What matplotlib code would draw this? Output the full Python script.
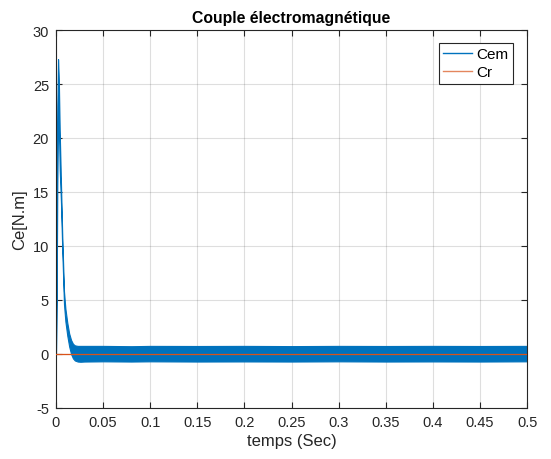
import matplotlib
matplotlib.use("Agg")
import matplotlib.pyplot as plt
from matplotlib.lines import Line2D

# Electromagnetic torque envelope (min/max of the ripple) over time
t_env = [0.0, 0.0008, 0.0015, 0.0022, 0.003, 0.004, 0.0053, 0.0067, 0.0085,
         0.010, 0.012, 0.014, 0.016, 0.018, 0.020, 0.023, 0.026, 0.030,
         0.05, 0.08, 0.10, 0.15, 0.20, 0.25, 0.30, 0.35, 0.40, 0.45, 0.50]
cem_upper = [0.0, 12.0, 23.0, 27.3, 25.5, 20.5, 15.8, 10.8, 5.8,
             4.2, 2.9, 1.9, 1.3, 0.95, 0.8, 0.75, 0.75, 0.75,
             0.75, 0.72, 0.75, 0.74, 0.75, 0.73, 0.75, 0.74, 0.75, 0.74, 0.75]
cem_lower = [0.0, 6.0, 17.0, 24.0, 21.5, 17.0, 14.0, 9.5, 4.6,
             3.0, 1.7, 0.7, 0.0, -0.4, -0.6, -0.7, -0.72, -0.7,
             -0.68, -0.7, -0.68, -0.7, -0.69, -0.7, -0.68, -0.7, -0.69, -0.7, -0.68]
# Load torque
t_cr = [0.0, 0.5]
cr = [0.0, 0.0]

x_ticks = [0, 0.05, 0.1, 0.15, 0.2, 0.25, 0.3, 0.35, 0.4, 0.45, 0.5]
x_ticklabels = ["0", "0.05", "0.1", "0.15", "0.2", "0.25", "0.3", "0.35", "0.4", "0.45", "0.5"]
y_ticks = [-5, 0, 5, 10, 15, 20, 25, 30]

blue = (0.0, 0.447, 0.741)
orange = (0.851, 0.325, 0.098)
axcol = (0.15, 0.15, 0.15)

plt.rcParams["font.family"] = ["Liberation Sans", "DejaVu Sans"]
plt.rcParams["axes.unicode_minus"] = False

fig = plt.figure(figsize=(5.51, 4.60), dpi=100)
ax = fig.add_axes([0.1016, 0.1109, 0.855, 0.8217])

ax.fill_between(t_env, cem_lower, cem_upper, color=blue, linewidth=0.8,
                edgecolor=blue, zorder=2)
ax.plot(t_cr, cr, color=orange, linewidth=0.9, zorder=3)

ax.set_xlim(0, 0.5)
ax.set_ylim(-5, 30)
ax.set_xticks(x_ticks)
ax.set_xticklabels(x_ticklabels)
ax.set_yticks(y_ticks)
ax.grid(True, color=(0.15, 0.15, 0.15), alpha=0.15, linewidth=0.8)
ax.set_axisbelow(True)

for s in ax.spines.values():
    s.set_color(axcol)
    s.set_linewidth(0.8)
ax.tick_params(direction="in", top=True, right=True, length=4, width=0.8,
               color=axcol, labelcolor=axcol, labelsize=10.5, pad=5)

ax.set_title("Couple électromagnétique", fontsize=11.3, fontweight="bold",
             color="black", pad=6)
ax.set_xlabel("temps (Sec)", fontsize=12, color=axcol, labelpad=3)
ax.set_ylabel("Ce[N.m]", fontsize=12, color=axcol, labelpad=4)

handles = [Line2D([], [], color=blue, linewidth=1.0),
           Line2D([], [], color=orange, linewidth=1.0, alpha=0.7)]
leg = ax.legend(handles, ["Cem", "Cr"], loc="upper right", fontsize=11,
                frameon=True, fancybox=False, framealpha=1.0,
                edgecolor=axcol, borderpad=0.3, labelspacing=0.25,
                handlelength=1.9, handletextpad=0.25, borderaxespad=0,
                bbox_to_anchor=(0.970, 0.966))
leg.get_frame().set_linewidth(0.8)

fig.savefig("out.png", dpi=100)
